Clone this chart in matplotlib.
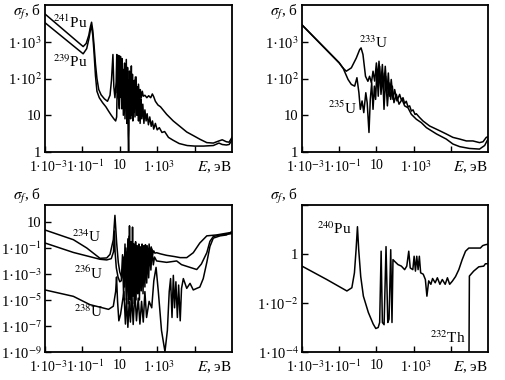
import matplotlib
matplotlib.use("Agg")
import matplotlib.pyplot as plt
from matplotlib.transforms import ScaledTranslation

plt.rcParams['font.family'] = 'Liberation Serif'
plt.rcParams['mathtext.fontset'] = 'stix'
plt.rcParams['font.size'] = 11

# (E in eV, sigma_f in barn)
pu241 = [(1e-3, 5700), (0.11, 740), (0.16, 900), (0.22, 1500), (0.27, 2600), (0.31, 3400),
         (0.36, 2000), (0.42, 800), (0.5, 250), (0.6, 100), (0.75, 50), (1.0, 36), (1.5, 28),
         (2.2, 24), (3.0, 35), (3.6, 90), (4.3, 450), (4.8, 60), (5.5, 30), (6.4, 80), (6.9, 450),
         (7.5, 40), (8.3, 100), (9.0, 420), (9.8, 50), (10.8, 180), (11.8, 30), (13, 350),
         (14.2, 25), (15.5, 140), (17, 22), (18.5, 260), (20, 30), (22, 110), (24, 20), (26, 200),
         (28, 30), (31, 90), (34, 18), (37, 150), (41, 25), (45, 100), (50, 20), (55, 70),
         (61, 28), (68, 110), (75, 25), (83, 60), (92, 30), (100, 70), (112, 28), (125, 50),
         (140, 30), (160, 45), (180, 33), (220, 35), (280, 30), (350, 34), (450, 30), (550, 38),
         (650, 32), (800, 24), (1.1e3, 19), (1.5e3, 17), (3.2e3, 10.6), (7.2e3, 7.0),
         (1.7e4, 4.9), (3.8e4, 3.5), (8.5e4, 2.8), (2e5, 2.2), (4.5e5, 1.8), (1e6, 1.75),
         (2e6, 2.0), (3e6, 2.15), (5e6, 1.9), (7e6, 1.85), (1e7, 2.5)]
pu239 = [(1e-3, 3300), (0.11, 470), (0.17, 650), (0.23, 1300), (0.28, 2400), (0.31, 2600),
         (0.36, 1500), (0.42, 500), (0.5, 120), (0.6, 45), (0.8, 30), (1.2, 22), (1.8, 17),
         (2.5, 13), (3.5, 10), (4.8, 8), (6.0, 7), (6.8, 9), (7.8, 430), (8.6, 30), (9.5, 15),
         (10.9, 400), (11.4, 40), (11.9, 280), (12.8, 15), (14.3, 180), (15.5, 10), (17.7, 260),
         (19, 8), (22.3, 330), (24, 6), (26.2, 90), (28, 3), (29.5, 1.05), (31, 4), (32.3, 160),
         (34, 12), (35.5, 60), (38, 8), (41.5, 220), (44, 10), (47.6, 130), (50, 7), (52.6, 50),
         (56, 12), (60, 90), (65, 9), (75, 110), (82, 10), (90, 45), (100, 7), (110, 35),
         (122, 6), (135, 28), (150, 8), (170, 20), (195, 6), (220, 14), (255, 7), (290, 11),
         (340, 5.5), (400, 9), (480, 5), (560, 7), (650, 4.2), (800, 6), (1e3, 4), (1.3e3, 4.6),
         (1.8e3, 3.4), (2.5e3, 3.6), (4e3, 2.5), (7e3, 2.1), (1.5e4, 1.7), (4e4, 1.5),
         (1e5, 1.45), (3e5, 1.45), (1e6, 1.5), (2e6, 1.75), (3e6, 1.6), (5e6, 1.55),
         (7e6, 1.6), (1e7, 2.1)]

u233 = [(1e-3, 2900), (0.1, 270), (0.15, 200), (0.24, 158), (0.45, 195), (0.83, 360),
        (1.26, 610), (1.5, 680), (1.9, 450), (2.6, 115), (3.5, 84), (4.3, 115), (5.4, 76),
        (6.6, 158), (8.1, 85), (10, 265), (12.3, 94), (13.8, 295), (17, 62), (21, 240),
        (24.5, 50), (30, 215), (37, 41), (44, 141), (51, 33), (63, 94), (78, 27), (96, 50),
        (128, 24.5), (178, 37), (220, 26), (270, 30), (330, 21), (405, 24), (500, 17),
        (615, 18), (760, 13), (935, 14), (1.2e3, 10.5), (1.4e3, 11), (2.1e3, 8.7), (3.2e3, 7.0),
        (7.3e3, 5.1), (2.5e4, 3.8), (5.7e4, 3.1), (1.3e5, 2.5), (3e5, 2.25), (6.9e5, 2.0),
        (1.55e6, 2.0), (3.5e6, 1.8), (5.4e6, 1.9), (8.1e6, 2.5), (1e7, 2.6)]
u235 = [(1e-3, 2850), (0.1, 265), (0.16, 195), (0.3, 94), (0.45, 69), (0.68, 62), (0.9, 105),
        (1.15, 41), (1.37, 14.5), (1.7, 24.5), (2.1, 11.8), (2.7, 41), (3.2, 22), (4.0, 3.4),
        (4.7, 27), (5.6, 76), (6.6, 14.5), (7.8, 62), (9.1, 27), (10.7, 175), (12.6, 33),
        (15, 215), (17.7, 37), (21.7, 141), (25.7, 14.5), (31.6, 115), (39, 18), (48, 76),
        (59, 27), (72, 62), (88, 22), (118, 37), (165, 20), (240, 27), (330, 18), (500, 16),
        (760, 10.6), (1.4e3, 7.8), (2.6e3, 6.3), (4.9e3, 4.6), (1.7e4, 3.1), (5.7e4, 2.25),
        (1.3e5, 1.65), (3e5, 1.4), (1e6, 1.25), (3.5e6, 1.2), (6.6e6, 1.5), (1e7, 2.25)]

u234 = [(1e-3, 2.4), (0.033, 0.43), (0.17, 0.1), (0.87, 0.016), (2.0, 0.017), (3.0, 0.032),
        (4.5, 0.43), (5.5, 32), (6.8, 0.24), (8.3, 7.8e-3), (10, 1.4e-3), (13, 5e-4),
        (16, 0.02), (18, 1e-4), (21, 0.1), (24, 5e-4), (27, 0.5), (30, 1e-4), (33, 5.0),
        (36, 2e-3), (40, 0.3), (44, 5e-4), (48, 4.0), (52, 1e-3), (57, 0.2), (63, 3e-4),
        (70, 0.3), (77, 1e-3), (85, 0.15), (95, 5e-4), (105, 0.2), (115, 2e-3), (128, 0.12),
        (140, 1e-3), (155, 0.2), (170, 5e-3), (190, 0.15), (210, 3e-3), (235, 0.18),
        (260, 8e-3), (290, 0.15), (330, 0.01), (370, 0.2), (420, 0.02), (480, 0.12),
        (560, 0.03), (650, 0.06), (750, 0.04), (930, 0.043), (1.5e3, 0.035), (3.2e3, 0.027),
        (8e3, 0.022), (1.7e4, 0.018), (3.8e4, 0.018), (8.5e4, 0.043), (1.9e5, 0.24),
        (4.5e5, 0.85), (1.5e6, 1.0), (7.8e6, 1.5), (1e7, 1.6)]
u236 = [(1e-3, 0.24), (0.033, 0.045), (0.87, 0.0135), (2.0, 0.012), (3.5, 0.015), (4.6, 0.05),
        (5.2, 2.0), (5.6, 0.05), (6.5, 3e-3), (8, 6e-4), (10, 2.5e-4), (12, 3e-4), (14, 0.03),
        (16, 2e-5), (19, 0.2), (22, 1e-5), (25, 0.05), (28, 5e-6), (31, 0.8), (34, 1e-5),
        (38, 0.1), (42, 3e-6), (46, 0.3), (50, 2e-5), (55, 0.05), (61, 5e-6), (67, 0.2),
        (74, 1e-5), (82, 0.1), (91, 3e-5), (100, 0.15), (112, 1e-5), (125, 0.1), (140, 5e-5),
        (155, 0.12), (175, 3e-5), (195, 0.1), (220, 1e-4), (245, 0.1), (275, 2e-4), (310, 0.08),
        (350, 5e-4), (400, 0.1), (460, 2e-3), (530, 0.08), (620, 5e-3), (720, 0.02),
        (930, 0.01), (3.2e3, 7.8e-3), (1.1e4, 0.01), (2e4, 5.2e-3), (5.7e4, 3.2e-3),
        (1.3e5, 2.2e-3), (2.3e5, 5.8e-3), (4.5e5, 0.043), (6.6e5, 0.32), (1e6, 0.76),
        (2.3e6, 1.0), (7.8e6, 1.2), (1e7, 1.3)]
u238 = [(1e-3, 5.9e-5), (0.033, 1.9e-5), (0.25, 4.4e-6), (2.5, 1.9e-6), (4.5, 3.3e-6),
        (6.0, 4.4e-5), (6.7, 5.8e-4), (7.6, 7.8e-6), (8.9, 2.5e-7), (11, 7.9e-7), (16.6, 4.4e-5),
        (20, 1.4e-7), (23, 1.4e-5), (27, 7.9e-8), (32, 7.8e-6), (37, 2e-7), (44, 2.5e-5),
        (52, 1.3e-7), (64, 4.4e-5), (78, 2.5e-7), (97, 1.4e-5), (119, 1.4e-7), (146, 7.8e-6),
        (180, 2e-7), (220, 4.4e-5), (270, 4.5e-7), (370, 7.8e-6), (510, 2.5e-6), (660, 3e-4),
        (870, 3.2e-3), (1150, 4.4e-5), (1.7e3, 4.5e-8), (2.6e3, 1.07e-9), (3.5e3, 4.5e-8),
        (4.4e3, 4.4e-5), (5.2e3, 4.4e-4), (6.2e3, 4.5e-7), (7.3e3, 7.8e-4), (8.5e3, 2.5e-6),
        (1e4, 2.5e-4), (1.2e4, 4.5e-7), (1.4e4, 1.4e-4), (1.7e4, 2.5e-7), (2e4, 7.8e-5),
        (2.5e4, 4.4e-4), (3.8e4, 7.8e-5), (5.7e4, 1.9e-4), (8.5e4, 5.9e-5), (1.3e5, 7.8e-5),
        (1.9e5, 9.8e-5), (2.9e5, 4.4e-4), (4.5e5, 7.8e-3), (6.6e5, 0.13), (1e6, 0.57),
        (2.3e6, 0.85), (5.1e6, 1.0), (1e7, 1.8)]

pu240 = [(1e-3, 0.32), (0.022, 0.09), (0.26, 0.031), (0.48, 0.042), (0.66, 0.17), (0.81, 1.5),
         (0.96, 13), (1.12, 1.5), (1.44, 0.12), (2.0, 0.019), (3.7, 4.1e-3), (6.7, 1.4e-3),
         (9.3, 9.1e-4), (12.5, 1e-3), (15, 1.6e-3), (18, 1.3), (21, 1.6e-3), (26, 1.3e-3),
         (33, 2.0), (41, 1.6e-3), (48, 2.2e-3), (59, 1.5), (69, 1.6e-3), (78, 0.59), (96, 0.5),
         (145, 0.37), (220, 0.32), (330, 0.23), (430, 0.32), (550, 1.3), (660, 0.27),
         (910, 0.23), (1070, 0.81), (1260, 0.2), (1480, 0.81), (1750, 0.23), (2040, 0.81),
         (2400, 0.17), (3300, 0.15), (4300, 0.091), (5200, 0.019), (6500, 0.08), (8500, 0.058),
         (1.05e4, 0.1), (1.45e4, 0.067), (1.9e4, 0.107), (2.6e4, 0.058), (3.5e4, 0.091),
         (5e4, 0.058), (6.6e4, 0.107), (8.7e4, 0.058), (1.2e5, 0.077), (1.8e5, 0.12),
         (2.7e5, 0.23), (4.1e5, 0.59), (6.2e5, 1.3), (9.3e5, 1.75), (2.1e6, 1.75),
         (3.9e6, 1.75), (5.2e6, 2.2), (7.3e6, 2.4), (1e7, 2.5)]
th232 = [(9.4e5, 1e-5), (1.0e6, 0.126), (1.7e6, 0.2), (3.2e6, 0.3), (5.9e6, 0.32),
         (7.3e6, 0.4), (1e7, 0.4)]

x_ticks = [1e-3, 1e-1, 1e1, 1e3, 1e5]
x_labels = ['1·10$^{-3}$', '1·10$^{-1}$', '10', '1·10$^{3}$', '']
# small rightward nudge (px) so the "1·10" part sits on the tick, exponent hanging right
x_nudge = [3, 3, 0, 2, 0]


def setup(ax, ylim, yticks, ylabels, top_row):
    ax.set_xscale('log')
    ax.set_yscale('log')
    ax.set_xlim(1e-3, 1e7)
    ax.set_ylim(*ylim)
    ax.set_xticks(x_ticks, x_labels)
    ax.set_yticks(yticks, ylabels)
    ax.minorticks_off()
    ax.tick_params(direction='in', length=4, width=1)
    ax.tick_params(axis='x', pad=5, labelsize=10)
    ax.tick_params(axis='y', pad=2.5, labelsize=10.5)
    for s in ax.spines.values():
        s.set_linewidth(1.3)
    for lab, dx in zip(ax.get_xticklabels(), x_nudge):
        lab.set_transform(lab.get_transform() + ScaledTranslation(dx / 100, 0, fig.dpi_scale_trans))
    if top_row:
        ax.annotate(r'$\sigma_f$, б', xy=(0, 1), xycoords='axes fraction', xytext=(-3, 1.5),
                    textcoords='offset points', ha='right', va='top', fontsize=11)
    else:
        ax.annotate(r'$\sigma_f$, б', xy=(0, 1), xycoords='axes fraction', xytext=(-3, -1),
                    textcoords='offset points', ha='right', va='bottom', fontsize=11)
    ax.annotate(r'$E$, эВ', xy=(1, 0), xycoords='axes fraction', xytext=(0, -5),
                textcoords='offset points', ha='right', va='top', fontsize=11)


def curve(ax, pts):
    E, s = zip(*pts)
    ax.plot(E, s, color='k', lw=1.1)


fig = plt.figure(figsize=(5.06, 3.8), dpi=100)
ax1 = fig.add_axes([0.0889, 0.6, 0.3696, 0.3868])
ax2 = fig.add_axes([0.5968, 0.6, 0.3676, 0.3868])
ax3 = fig.add_axes([0.0889, 0.0737, 0.3696, 0.3868])
ax4 = fig.add_axes([0.5968, 0.0737, 0.3676, 0.3868])

top_ticks = [1, 10, 100, 1000]
top_labels = ['1', '10', '1·10$^{2}$', '1·10$^{3}$']

setup(ax1, (1, 1e4), top_ticks, top_labels, True)
curve(ax1, pu241)
curve(ax1, pu239)
ax1.text(0.022, 3300, '$^{241}$Pu', ha='center', va='center')
ax1.text(0.022, 290, '$^{239}$Pu', ha='center', va='center')

setup(ax2, (1, 1e4), top_ticks, top_labels, True)
curve(ax2, u233)
curve(ax2, u235)
ax2.text(7.1, 950, '$^{233}$U', ha='center', va='center')
ax2.text(0.15, 15, '$^{235}$U', ha='center', va='center')

setup(ax3, (1e-9, 2e2), [1e-9, 1e-7, 1e-5, 1e-3, 1e-1, 10],
      ['1·10$^{-9}$', '1·10$^{-7}$', '1·10$^{-5}$', '1·10$^{-3}$', '1·10$^{-1}$', '10'], False)
curve(ax3, u234)
curve(ax3, u236)
curve(ax3, u238)
ax3.text(0.18, 0.68, '$^{234}$U', ha='center', va='center')
ax3.text(0.23, 1.2e-3, '$^{236}$U', ha='center', va='center')
ax3.text(0.23, 1.3e-6, '$^{238}$U', ha='center', va='center')

setup(ax4, (1e-4, 1e2), [1e-4, 1e-2, 1, 1e2], ['1·10$^{-4}$', '1·10$^{-2}$', '1', ''], False)
curve(ax4, pu240)
curve(ax4, th232)
ax4.text(0.055, 11, '$^{240}$Pu', ha='center', va='center')
ax4.text(6.6e4, 4e-4, '$^{232}$Th', ha='center', va='center')

fig.savefig('out.png', dpi=100)
